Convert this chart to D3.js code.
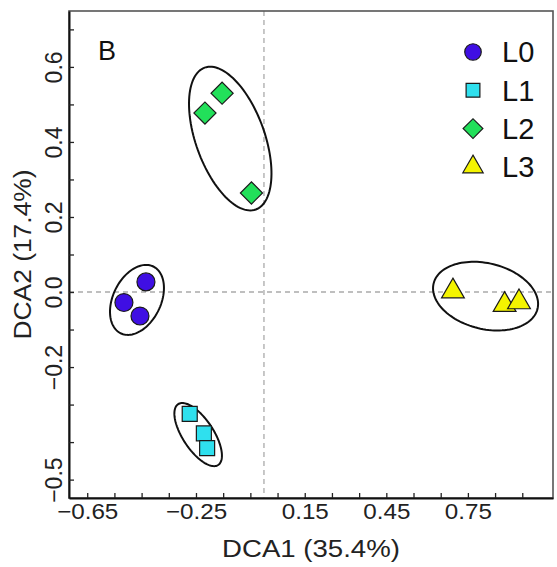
<!DOCTYPE html>
<html>
<head>
<meta charset="utf-8">
<script src="https://cdn.jsdelivr.net/npm/d3@7"></script>
<style>
  body { margin: 0; background: #fff; }
  svg { display: block; font-family: "Liberation Sans", Arial, sans-serif; }
</style>
</head>
<body>
<div id="chart"></div>
<script>
// groups and their samples
const groups = ["L0", "L1", "L2", "L3"];
const groupFill = ["#3f0fe3", "#2fe0ee", "#22e05a", "#f4f400"];

const sampleGroup = ["L0", "L0", "L0", "L1", "L1", "L1", "L2", "L2", "L2", "L3", "L3", "L3"];
const sampleDca1 = [-0.434, -0.515, -0.456, -0.273, -0.221, -0.209, -0.154, -0.217, -0.046, 0.695, 0.885, 0.938];
const sampleDca2 = [0.027, -0.028, -0.064, -0.325, -0.377, -0.416, 0.530, 0.477, 0.264, 0.002, -0.034, -0.027];

// ellipses: centre and two conjugate semi-axes, in DCA units
const ellCx = [-0.467, -0.242, -0.124, 0.815];
const ellCy = [-0.021, -0.380, 0.409, -0.011];
const ellAx = [-0.060, 0.0735, 0.094, 0.191];
const ellAy = [-0.089, -0.0811, -0.189, -0.034];
const ellBx = [0.079, 0.0474, 0.119, -0.029];
const ellBy = [-0.028, 0.0223, 0.031, -0.085];

const xTicks = d3.range(-0.65, 0.96, 0.1).map(v => +v.toFixed(2));
const xLabels = [-0.65, -0.25, 0.15, 0.45, 0.75];
const yTicks = d3.range(-0.5, 0.71, 0.1).map(v => +v.toFixed(1));
const yLabels = [0.6, 0.4, 0.2, 0.0, -0.2, -0.5];

const width = 557, height = 567,
margin = { top: 11, right: 4, bottom: 69, left: 69 };

const svg = d3.select('#chart').append('svg')
    .attr('width', width)
    .attr('height', height);

const x = d3.scaleLinear()
    .domain([-0.717, 1.063])
    .range([margin.left, width - margin.right]);
const y = d3.scaleLinear()
    .domain([-0.549, 0.749])
    .range([height - margin.bottom, margin.top]);

const fmt = v => (v < 0 ? "\u2212" : "") + Math.abs(v).toFixed(Math.abs(v * 10) % 1 ? 2 : 1);

// zero lines
svg.append('line')
    .attr('x1', x(0)).attr('x2', x(0))
    .attr('y1', y.range()[1]).attr('y2', y.range()[0])
    .attr('stroke', '#aaa').attr('stroke-width', 1.3).attr('stroke-dasharray', '5,4');
svg.append('line')
    .attr('x1', x.range()[0]).attr('x2', x.range()[1])
    .attr('y1', y(0)).attr('y2', y(0))
    .attr('stroke', '#aaa').attr('stroke-width', 1.3).attr('stroke-dasharray', '5,4');

// frame
svg.append('rect')
    .attr('x', x.range()[0]).attr('y', y.range()[1])
    .attr('width', x.range()[1] - x.range()[0])
    .attr('height', y.range()[0] - y.range()[1])
    .attr('fill', 'none').attr('stroke', '#555').attr('stroke-width', 1.6);

// axes, ticks point inwards
const gx = svg.append('g')
    .attr('transform', 'translate(0,' + y.range()[0] + ')')
    .call(d3.axisBottom(x).tickValues(xTicks).tickSizeInner(-5).tickSizeOuter(0)
        .tickFormat(d => xLabels.some(l => Math.abs(l - d) < 1e-6) ? fmt(d) : ''));
gx.select('.domain').attr('stroke', '#111').attr('stroke-width', 2);
gx.selectAll('.tick line').attr('stroke', '#222').attr('stroke-width', 1.3);
gx.selectAll('.tick text')
    .attr('y', 5).attr('dy', '0.71em')
    .attr('transform', 'scale(1.1,1)')
    .style('font-size', '22px').attr('fill', '#222');

const gy = svg.append('g')
    .attr('transform', 'translate(' + x.range()[0] + ',0)')
    .call(d3.axisLeft(y).tickValues(yTicks).tickSizeInner(-5).tickSizeOuter(0)
        .tickFormat(d => yLabels.some(l => Math.abs(l - d) < 1e-6) ? fmt(d) : ''));
gy.select('.domain').attr('stroke', '#111').attr('stroke-width', 2);
gy.selectAll('.tick line').attr('stroke', '#222').attr('stroke-width', 1.3);
gy.selectAll('.tick text')
    .attr('x', null).attr('dy', '0.35em')
    .attr('text-anchor', 'middle')
    .attr('transform', 'translate(-15,0) rotate(-90)')
    .style('font-size', '23px').attr('fill', '#222');

// axis titles
svg.append('text')
    .attr('transform', 'translate(' + ((x.range()[0] + x.range()[1]) / 2) + ',549) scale(1.15,1)')
    .attr('text-anchor', 'middle').attr('dy', '0.35em')
    .style('font-size', '24px').attr('fill', '#222')
    .text('DCA1 (35.4%)');
svg.append('text')
    .attr('transform', 'translate(23,' + ((y.range()[0] + y.range()[1]) / 2) + ') rotate(-90) scale(1.1,1)')
    .attr('text-anchor', 'middle').attr('dy', '0.35em')
    .style('font-size', '24px').attr('fill', '#222')
    .text('DCA2 (17.4%)');

// panel letter
svg.append('text')
    .attr('x', 98).attr('y', 60)
    .style('font-size', '27px').attr('fill', '#111')
    .text('B');

// ellipses
const ellLine = d3.line().curve(d3.curveLinearClosed);
const tSteps = d3.range(0, 2 * Math.PI, Math.PI / 60);
groups.forEach((g, i) => {
    const pts = tSteps.map(t => [
        x(ellCx[i] + ellAx[i] * Math.cos(t) + ellBx[i] * Math.sin(t)),
        y(ellCy[i] + ellAy[i] * Math.cos(t) + ellBy[i] * Math.sin(t))
    ]);
    svg.append('path')
        .attr('d', ellLine(pts))
        .attr('fill', 'none')
        .attr('stroke', '#111')
        .attr('stroke-width', 2);
});

// markers
const shapes = [
    { type: d3.symbolCircle, size: 254, rot: 0 },
    { type: d3.symbolSquare, size: 225, rot: 0 },
    { type: d3.symbolSquare, size: 245, rot: 45 },
    { type: d3.symbolTriangle, size: 225, rot: 0 }
];
const legendShapes = [
    { type: d3.symbolCircle, size: 215, rot: 0 },
    { type: d3.symbolSquare, size: 190, rot: 0 },
    { type: d3.symbolSquare, size: 195, rot: 45 },
    { type: d3.symbolTriangle, size: 180, rot: 0 }
];

svg.append('g').selectAll('path')
    .data(d3.range(sampleGroup.length))
    .enter()
    .append('path')
    .attr('d', i => d3.symbol().type(shapes[groups.indexOf(sampleGroup[i])].type)
        .size(shapes[groups.indexOf(sampleGroup[i])].size)())
    .attr('transform', i => 'translate(' + x(sampleDca1[i]) + ',' + y(sampleDca2[i]) + ') rotate(' +
        shapes[groups.indexOf(sampleGroup[i])].rot + ')')
    .attr('fill', i => groupFill[groups.indexOf(sampleGroup[i])])
    .attr('stroke', '#1a1a1a')
    .attr('stroke-width', 1.2);

// legend
const legend = svg.append('g').attr('transform', 'translate(473,52)');
groups.forEach((g, i) => {
    const row = legend.append('g').attr('transform', 'translate(0,' + (i * 38.3) + ')');
    row.append('path')
        .attr('d', d3.symbol().type(legendShapes[i].type).size(legendShapes[i].size)())
        .attr('transform', 'rotate(' + legendShapes[i].rot + ')')
        .attr('fill', groupFill[i])
        .attr('stroke', '#1a1a1a')
        .attr('stroke-width', 1.2);
    row.append('text')
        .attr('x', 29).attr('dy', '0.36em')
        .style('font-size', '29px').attr('fill', '#111')
        .text(g);
});
</script>
</body>
</html>
